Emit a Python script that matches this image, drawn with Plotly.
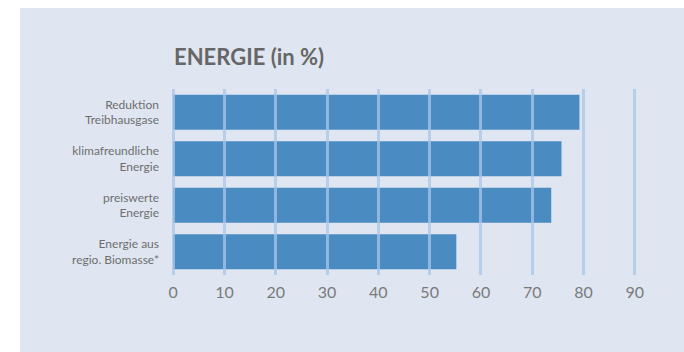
import plotly.graph_objects as go

categories = ["Reduktion<br>Treibhausgase", "klimafreundliche<br>Energie", "preiswerte<br>Energie", "Energie aus<br>regio. Biomasse*"]
values = [79.2, 75.7, 73.7, 55.2]
tick_vals = [0, 10, 20, 30, 40, 50, 60, 70, 80, 90]
title_text = "ENERGIE (in %)"

W, H = 684, 352
PX = 5.13  # pixels per unit
pad_u = 1.0
L = round(173 - pad_u * PX)
R = round(W - (635 + pad_u * PX))
T, B = 89, 77
pw, ph = W - L - R, H - T - B

FONT = "Lato, Open Sans, sans-serif"
PANEL = "#dfe6f1"

fig = go.Figure(go.Bar(
    x=values, y=categories, orientation="h",
    marker=dict(color="#4a8bc2", line=dict(width=0)),
    width=0.75,
))

fig.add_shape(type="rect", xref="paper", yref="paper",
              x0=(20 - L) / pw, x1=(W - L) / pw + 0.05,
              y0=-B / ph - 0.05, y1=(H - B - 8) / ph,
              fillcolor=PANEL, line=dict(width=0), layer="below")

fig.add_annotation(text="<b>" + title_text + "</b>", xref="paper", yref="paper",
                   x=(172 - L) / pw, y=(H - B - 57) / ph, xanchor="left", yanchor="middle",
                   showarrow=False, font=dict(family=FONT, size=22, color="#666666"))

fig.update_layout(
    width=W, height=H,
    margin=dict(l=L, r=R, t=T, b=B, pad=0),
    paper_bgcolor="white", plot_bgcolor=PANEL,
    showlegend=False,
    bargap=0.25,
    xaxis=dict(range=[-pad_u, 90 + pad_u], tickvals=tick_vals, showgrid=False, zeroline=False,
               showline=False, ticks="inside", ticklen=ph, tickwidth=2.5,
               tickcolor="rgba(170,198,232,0.75)", layer="above traces",
               tickfont=dict(family=FONT, size=16, color="#7a7a7a"),
               ticklabelstandoff=6),
    yaxis=dict(autorange="reversed", showgrid=False, zeroline=False, showline=False,
               ticks="", tickfont=dict(family=FONT, size=12, color="#6e6e6e"),
               ticklabelstandoff=8),
)

fig.write_html("out.html")
